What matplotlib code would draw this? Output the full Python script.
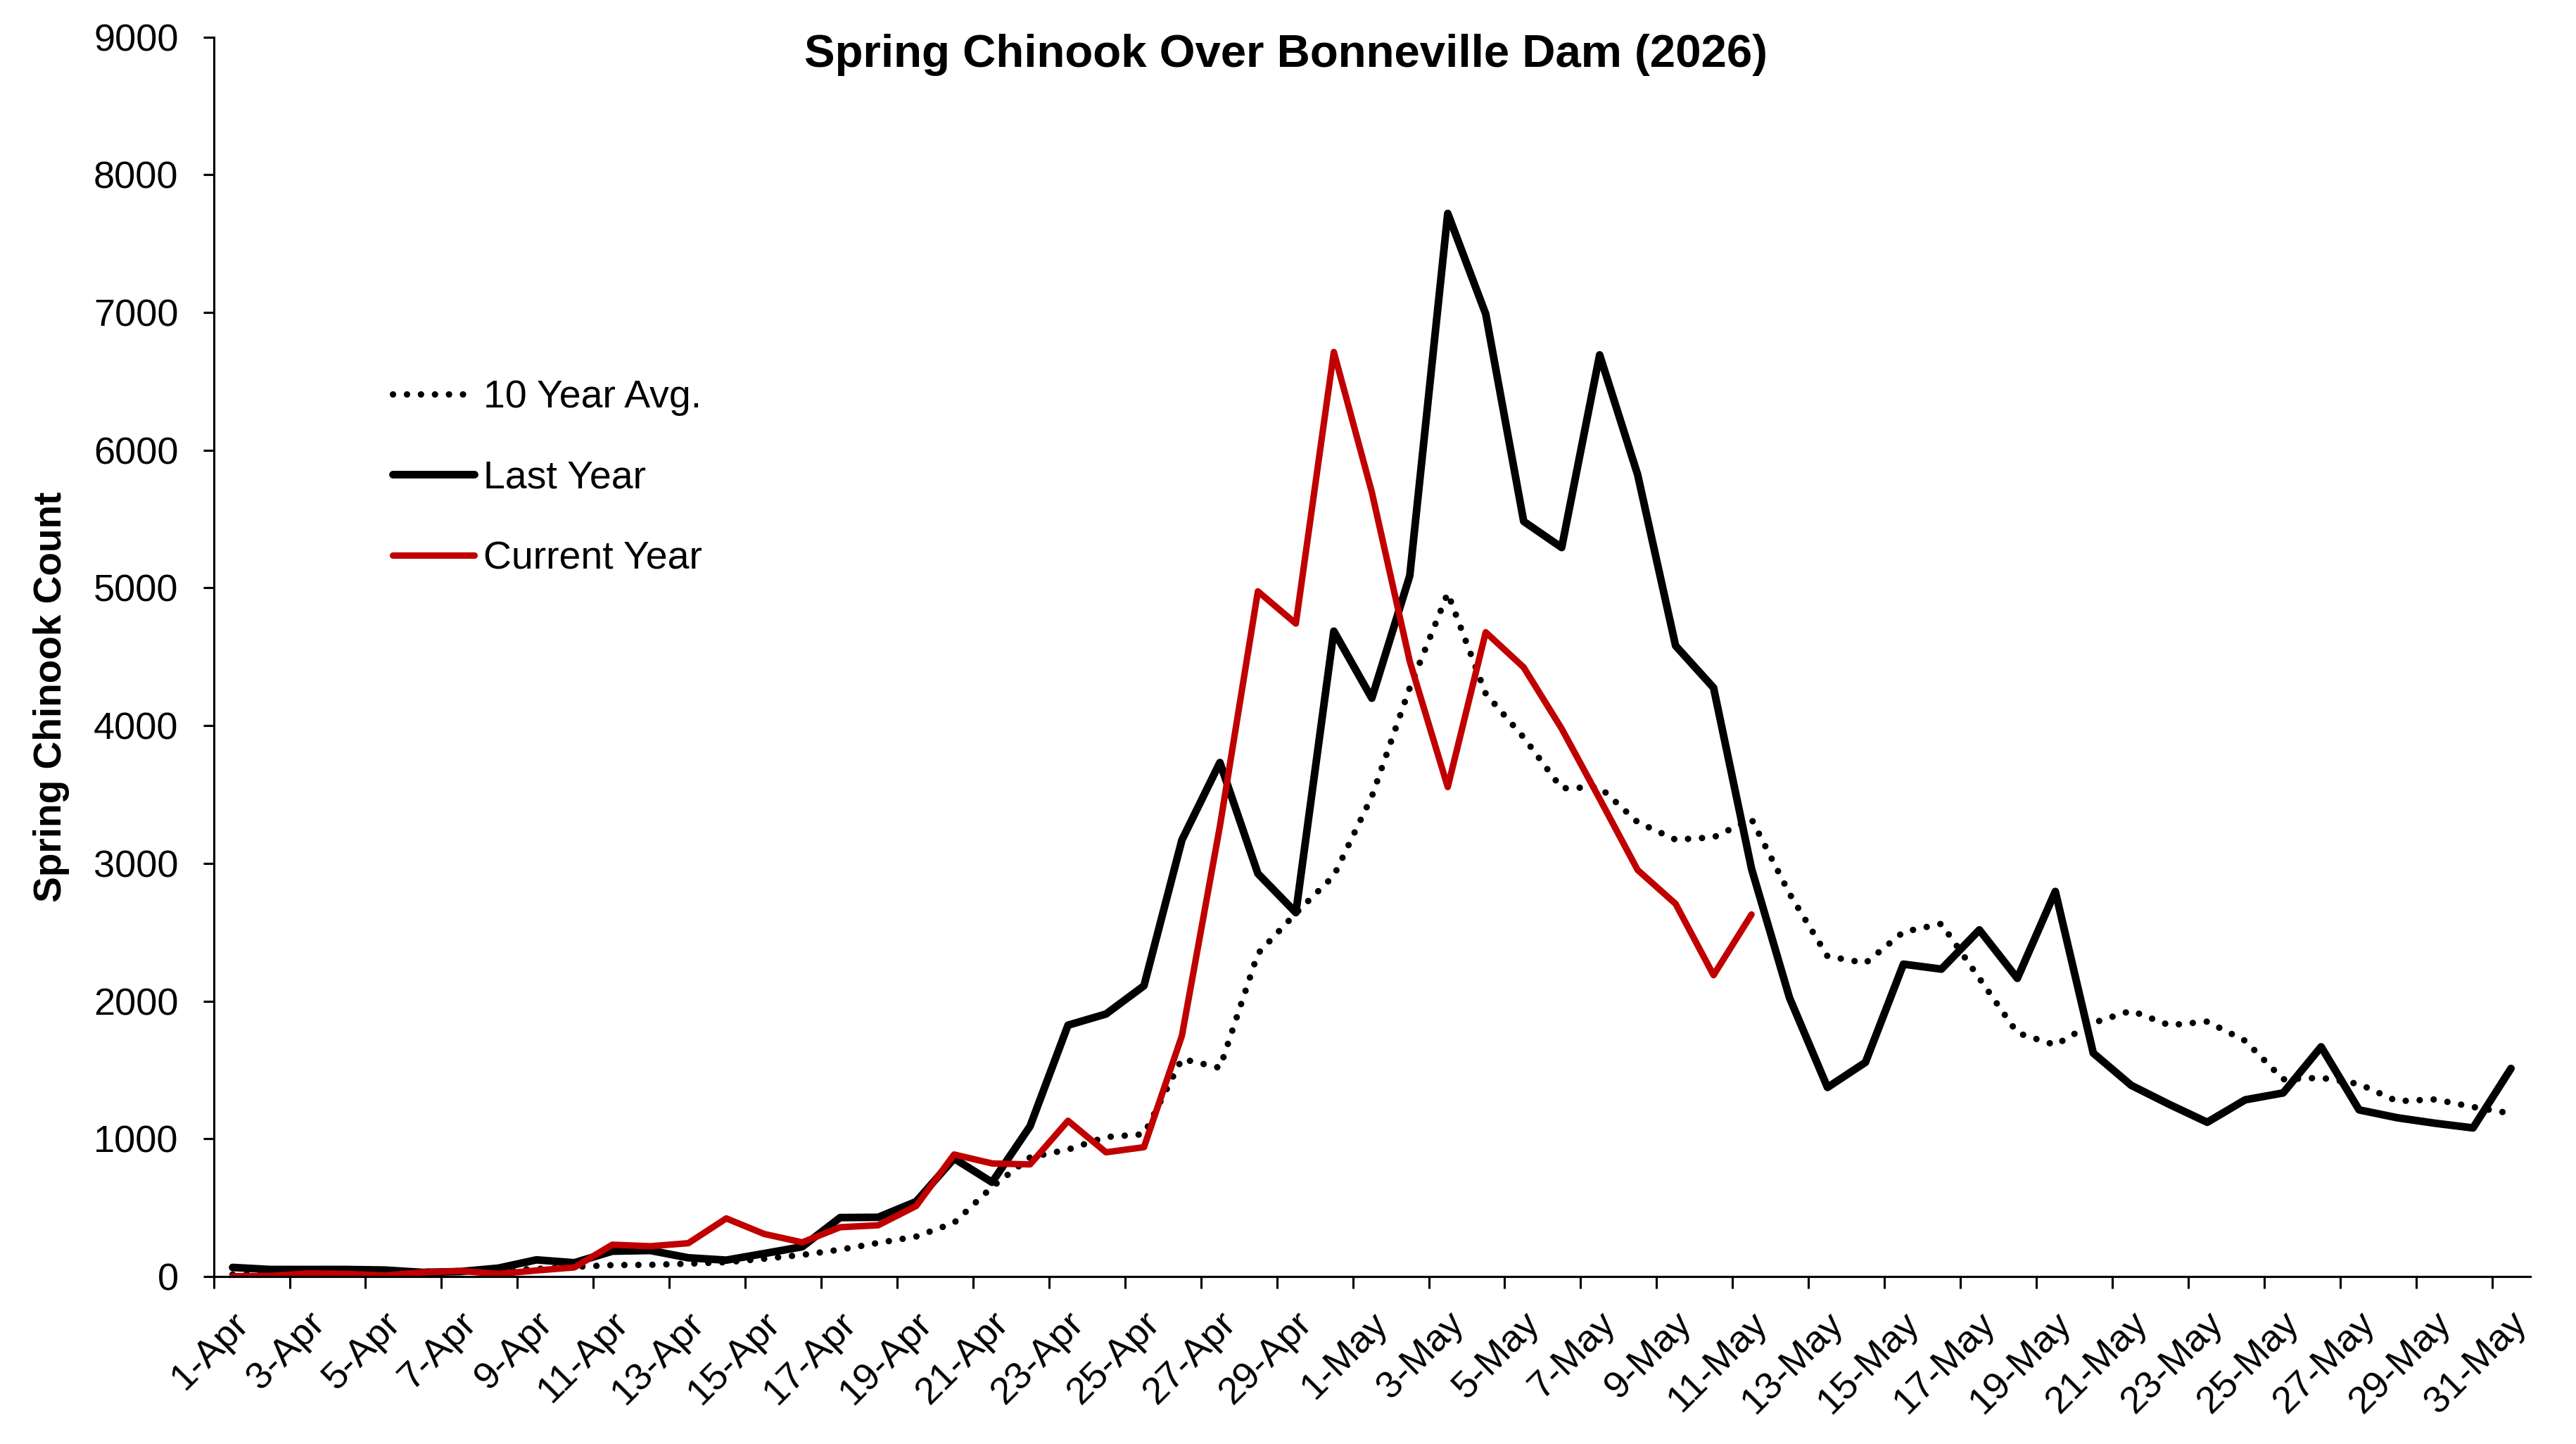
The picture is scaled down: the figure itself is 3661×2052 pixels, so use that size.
import matplotlib
matplotlib.use("Agg")
import matplotlib.pyplot as plt
import matplotlib.transforms as mtransforms
import numpy as np

plt.rcParams['font.family'] = ['Liberation Sans', 'DejaVu Sans']

# ---- data ----
days_apr = [f"{d}-Apr" for d in range(1, 31)]
days_may = [f"{d}-May" for d in range(1, 32)]
dates = days_apr + days_may

ten_year_avg = [15, 20, 25, 25, 30, 35, 40, 45, 55, 70,
                83, 85, 93, 104, 129, 157, 195, 244, 290, 390,
                650, 865, 922, 1013, 1033, 1580, 1515, 2345, 2638, 2910,
                3485, 4275, 4962, 4232, 3914, 3545, 3554, 3299, 3172, 3189,
                3321, 2780, 2326, 2276, 2502, 2561, 2165, 1769, 1681, 1842,
                1930, 1825, 1851, 1712, 1432, 1443, 1398, 1273, 1286, 1231,
                1184]

last_year = [66, 51, 51, 51, 47, 30, 36, 61, 121, 100,
             184, 189, 136, 119, 167, 216, 428, 430, 544, 857,
             684, 1091, 1825, 1906, 2111, 3170, 3732, 2926, 2642, 4686,
             4199, 5089, 7719, 6989, 5483, 5293, 6692, 5823, 4580, 4275,
             2961, 2024, 1373, 1555, 2268, 2232, 2517, 2165, 2796, 1622,
             1388, 1250, 1120, 1283, 1333, 1668, 1210, 1153, 1113, 1079,
             1511]

current_year = [2, 5, 23, 19, 8, 30, 40, 19, 44, 66,
                231, 220, 242, 422, 309, 248, 358, 372, 512, 886,
                821, 814, 1131, 902, 939, 1749, 3270, 4975, 4741, 6713,
                5696, 4466, 3554, 4678, 4423, 3978, 3469, 2952, 2706, 2188,
                2629]

title = "Spring Chinook Over Bonneville Dam (2026)"
ylabel = "Spring Chinook Count"
series_names = ["10 Year Avg.", "Last Year", "Current Year"]

# ---- figure ----
W, H = 3661, 2052
fig = plt.figure(figsize=(W / 300, H / 300), dpi=300)
ax = fig.add_axes([303.6 / W, 1 - 1814 / H, 3292 / W, 1761.4 / H])

x_all = np.arange(len(dates))
ax.plot(x_all, ten_year_avg, color='black', lw=2.2,
        linestyle=(0, (0.01, 2.16)), dash_capstyle='round',
        label=series_names[0])
ax.plot(x_all, last_year, color='black', lw=2.6,
        solid_joinstyle='round', solid_capstyle='round',
        label=series_names[1])
ax.plot(np.arange(len(current_year)), current_year, color='#C00000', lw=2.2,
        solid_joinstyle='round', solid_capstyle='round',
        label=series_names[2])

ax.set_xlim(-0.5, len(dates) - 0.5)
ax.set_ylim(0, 9000)
ax.set_yticks(np.arange(0, 9001, 1000))
ax.tick_params(axis='y', direction='out', length=3.7, width=0.75,
               pad=8.3, labelsize=13, colors='black')

label_idx = list(range(0, len(dates), 2))
ax.set_xticks(label_idx)
ax.set_xticklabels([dates[i] for i in label_idx], rotation=45, ha='right',
                   va='center', rotation_mode='anchor', fontsize=13)
ax.tick_params(axis='x', which='major', length=0, pad=14.0)
ax.set_xticks(np.arange(-0.5, len(dates) - 1, 2), minor=True)
ax.tick_params(axis='x', which='minor', direction='out', length=4.0,
               width=0.75)
offset = mtransforms.ScaledTranslation(0.05, 0, fig.dpi_scale_trans)
for lab in ax.get_xticklabels():
    lab.set_transform(lab.get_transform() + offset)

for s in ['top', 'right']:
    ax.spines[s].set_visible(False)
for s in ['left', 'bottom']:
    ax.spines[s].set_linewidth(0.75)
    ax.spines[s].set_color('black')

leg = ax.legend(loc='upper left', bbox_to_anchor=(558 / W, 1 - 539 / H),
                bbox_transform=fig.transFigure, frameon=False, fontsize=13.3,
                handlelength=2.1, handletextpad=0.22, labelspacing=1.13,
                borderpad=0, borderaxespad=0)

fig.text(0.4993, 1 - 95 / H, title, ha='center', va='baseline',
         fontsize=15.7, fontweight='bold')
fig.text(73 / W, 1 - 990 / H, ylabel, ha='center', va='center',
         rotation=90, fontsize=13.2, fontweight='bold')

fig.savefig("out.png", dpi=300, facecolor='white')
